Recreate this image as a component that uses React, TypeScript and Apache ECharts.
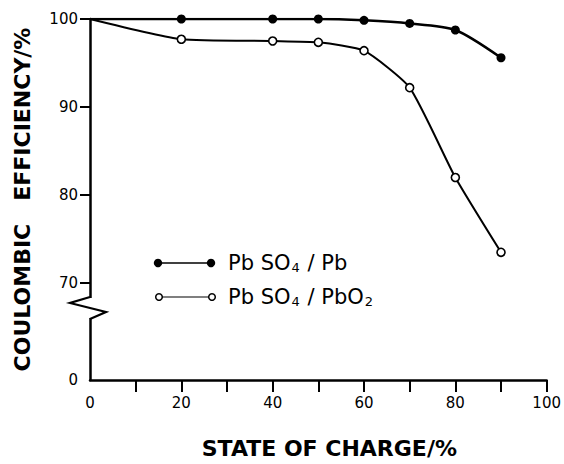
import React, { useEffect, useRef } from "react";
import * as echarts from "echarts";

const xTickLabels = [0, 20, 40, 60, 80, 100];
const xTickMarks = [10, 20, 30, 40, 50, 60, 70, 80, 90, 100];
const yTickMarks = [70, 80, 90, 100];
const yBottomValue = 59; // axis origin (labelled "0" below the break)
const yTickLabels = [yBottomValue, 70, 80, 90, 100];

const pbX = [0, 20, 40, 50, 60, 70, 80, 90];
const pbY = [100, 100, 100, 100, 99.85, 99.5, 98.75, 95.6];
const pbo2X = [0, 20, 40, 50, 60, 70, 80, 90];
const pbo2Y = [100, 97.7, 97.5, 97.35, 96.4, 92.2, 82.0, 73.5];

const FONT = "DejaVu Sans";

function buildData(xs: number[], ys: number[]) {
  return xs.map((x, i) =>
    i === 0 ? { value: [x, ys[i]], symbol: "none" } : { value: [x, ys[i]] }
  );
}

export default function App() {
  const ref = useRef<HTMLDivElement>(null);
  useEffect(() => {
    if (!ref.current) return;
    const chart = echarts.init(ref.current, null, { renderer: "svg" });
    const axisLine = { lineStyle: { color: "#000", width: 2.5 } };
    chart.setOption({
      animation: false,
      backgroundColor: "#fff",
      grid: { left: 90, right: 17, top: 19, bottom: 80 },
      xAxis: {
        type: "value",
        min: 0,
        max: 100,
        name: "STATE OF CHARGE/%",
        nameLocation: "middle",
        nameGap: 57,
        nameTextStyle: {
          fontFamily: FONT,
          fontWeight: "bold",
          fontSize: 22,
          color: "#000",
          padding: [0, 0, 0, 22],
        },
        axisLine,
        axisTick: {
          show: true,
          customValues: xTickMarks,
          length: 12,
          lineStyle: { color: "#000", width: 2 },
        },
        axisLabel: {
          customValues: xTickLabels,
          margin: 15,
          fontFamily: FONT,
          fontSize: 15,
          color: "#000",
        },
        splitLine: { show: false },
      },
      yAxis: {
        type: "value",
        min: yBottomValue,
        max: 100,
        name: "COULOMBIC   EFFICIENCY/%",
        nameLocation: "middle",
        nameGap: 57,
        nameTextStyle: {
          fontFamily: FONT,
          fontWeight: "bold",
          fontSize: 22,
          color: "#000",
        },
        axisLine,
        axisTick: {
          show: true,
          customValues: yTickMarks,
          length: 10,
          lineStyle: { color: "#000", width: 2 },
        },
        axisLabel: {
          customValues: yTickLabels,
          margin: 12,
          fontFamily: FONT,
          fontSize: 15,
          color: "#000",
          formatter: (v: number) => (v === yBottomValue ? "0" : String(v)),
        },
        splitLine: { show: false },
      },
      series: [
        {
          name: "PbSO4/Pb",
          type: "line",
          data: buildData(pbX, pbY),
          smooth: 0.25,
          symbol: "circle",
          symbolSize: 9,
          itemStyle: { color: "#000" },
          lineStyle: { color: "#000", width: 2.5 },
          z: 3,
        },
        {
          name: "PbSO4/PbO2",
          type: "line",
          data: buildData(pbo2X, pbo2Y),
          smooth: 0.18,
          symbol: "circle",
          symbolSize: 8,
          itemStyle: { color: "#fff", borderColor: "#000", borderWidth: 1.6 },
          lineStyle: { color: "#000", width: 2 },
          z: 3,
        },
      ],
    });

    const [ax] = chart.convertToPixel({ gridIndex: 0 }, [0, 70]) as number[];
    const top = 298;
    const bottom = 318;
    const textRich = {
      n: { fontFamily: FONT, fontSize: 21, fill: "#000" },
      s: { fontFamily: FONT, fontSize: 13, fill: "#000", verticalAlign: "bottom", padding: [6, 1, 0, 1] },
    };
    chart.setOption({
      graphic: [
        { type: "rect", shape: { x: ax - 3, y: top, width: 6, height: bottom - top }, style: { fill: "#fff" }, z: 10 },
        {
          type: "polyline",
          shape: { points: [[ax, top - 1], [ax - 20, top + 5], [ax + 16, top + 14], [ax, bottom + 1]] },
          style: { stroke: "#000", lineWidth: 2.2, fill: null },
          z: 11,
        },
        // legend row 1
        { type: "line", shape: { x1: 158, y1: 263, x2: 211, y2: 263 }, style: { stroke: "#000", lineWidth: 1.6 }, z: 10 },
        { type: "circle", shape: { cx: 158, cy: 263, r: 4.2 }, style: { fill: "#000" }, z: 11 },
        { type: "circle", shape: { cx: 211, cy: 263, r: 4.2 }, style: { fill: "#000" }, z: 11 },
        {
          type: "text",
          x: 228,
          y: 263,
          style: { text: "{n|Pb SO}{s|4}{n| / Pb}", rich: textRich, verticalAlign: "middle", fill: "#000" },
          z: 11,
        },
        // legend row 2
        { type: "line", shape: { x1: 159, y1: 297, x2: 212, y2: 297 }, style: { stroke: "#000", lineWidth: 1.2 }, z: 10 },
        { type: "circle", shape: { cx: 159, cy: 297, r: 3.3 }, style: { fill: "#fff", stroke: "#000", lineWidth: 1.5 }, z: 11 },
        { type: "circle", shape: { cx: 212, cy: 297, r: 3.3 }, style: { fill: "#fff", stroke: "#000", lineWidth: 1.5 }, z: 11 },
        {
          type: "text",
          x: 228,
          y: 297,
          style: { text: "{n|Pb SO}{s|4}{n| / PbO}{s|2}", rich: textRich, verticalAlign: "middle", fill: "#000" },
          z: 11,
        },
      ],
    });
    return () => chart.dispose();
  }, []);
  return <div ref={ref} style={{ width: 564, height: 464, position: "absolute", left: 0, top: 0 }} />;
}
